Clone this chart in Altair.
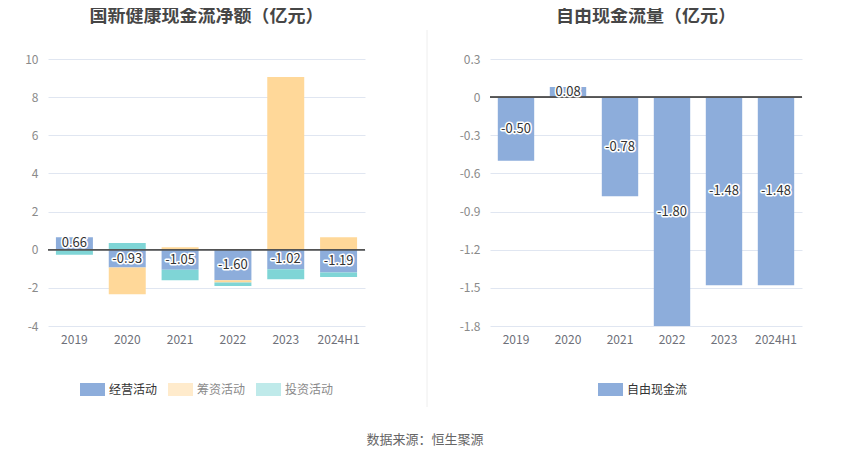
import altair as alt
import pandas as pd

years = ["2019", "2020", "2021", "2022", "2023", "2024H1"]
kinds = ["经营活动", "筹资活动", "投资活动"]
operating = [0.66, -0.93, -1.05, -1.60, -1.02, -1.19]
financing = [0.0, -1.41, 0.13, -0.12, 9.06, 0.66]
investing = [-0.26, 0.35, -0.55, -0.18, -0.53, -0.24]
fcf = [-0.50, 0.08, -0.78, -1.80, -1.48, -1.48]
left_ticks = [-4, -2, 0, 2, 4, 6, 8, 10]
right_ticks = [-1.8, -1.5, -1.2, -0.9, -0.6, -0.3, 0, 0.3]
title_left = "国新健康现金流净额（亿元）"
title_right = "自由现金流量（亿元）"
fcf_name = "自由现金流"
source_text = "数据来源：恒生聚源"

BLUE = "#8DADDB"
ORANGE = "#FFD899"
CYAN = "#7FD5D6"
FONT = "Noto Sans CJK SC"

rows = []
for i, y in enumerate(years):
    for j, (k, vals) in enumerate(zip(kinds, [operating, financing, investing])):
        rows.append({"year": y, "kind": k, "value": vals[i], "ord": j})
df_long = pd.DataFrame(rows)
df_ops = pd.DataFrame({"year": years, "value": operating,
                       "label": [f"{v:.2f}" for v in operating]})
df_fcf = pd.DataFrame({"year": years, "value": fcf, "kind": [fcf_name] * len(years),
                       "label": [f"{v:.2f}" for v in fcf]})

W1, W2, H = 317, 312, 267

legend_common = dict(
    title=None, orient="none", direction="horizontal", padding=0,
    symbolType="M-1,-0.52h2v1.04h-2z", symbolSize=625, symbolStrokeWidth=0,
    labelFontSize=12, labelFont=FONT, columnPadding=10, labelOffset=4,
)

XAXIS = alt.Axis(title=None, labelAngle=0, domain=False, ticks=False, grid=False,
                 labelPadding=8, labelColor="#6E7079", labelFontSize=12, labelFont=FONT)
XSCALE = alt.Scale(paddingInner=0.3, paddingOuter=0.15)


def yaxis(vals, fmt):
    return alt.Axis(title=None, values=vals, domain=False, ticks=False, grid=True,
                    gridColor="#E0E6F1", labelPadding=10, labelColor="#8A8A8A",
                    labelFontSize=12, labelFont=FONT, minExtent=40, labelOverlap=False,
                    labelExpr=f"replace(format(datum.value, '{fmt}'), '\u2212', '-')")


def title(t):
    return alt.Title(t, fontSize=18, font=FONT, fontWeight="bold", color="#464646",
                     anchor="middle", offset=27)


def xenc():
    return alt.X("year:N", sort=years, scale=XSCALE, axis=XAXIS)


def labels(df, scale, axis):
    base = alt.Chart(df).transform_calculate(mid="datum.value/2")
    enc = dict(x=xenc(), y=alt.Y("mid:Q", scale=scale, axis=axis), text="label:N")
    halo = base.mark_text(fontSize=13, font=FONT, stroke="white", strokeWidth=3,
                          strokeJoin="round", color="white").encode(**enc)
    top = base.mark_text(fontSize=13, font=FONT, color="#333333").encode(**enc)
    return halo, top


# Left panel
yl_scale = alt.Scale(domain=[-4, 10], nice=False, zero=False)
yl_axis = yaxis(left_ticks, 'd')
bars_l = alt.Chart(df_long).mark_bar().encode(
    x=xenc(),
    y=alt.Y("value:Q", stack="zero", scale=yl_scale, axis=yl_axis),
    color=alt.Color("kind:N", scale=alt.Scale(domain=kinds, range=[BLUE, ORANGE, CYAN]),
                    legend=alt.Legend(
                        **legend_common, legendX=32, legendY=318,
                        symbolOpacity={"expr": "datum.value == '经营活动' ? 1 : 0.5"},
                        labelColor={"expr": "datum.value == '经营活动' ? '#333333' : '#8A8A8A'"},
                    )),
    order=alt.Order("ord:Q"),
)
zero_l = alt.Chart(df_ops).mark_rule(color="#555555", strokeWidth=1).encode(
    y=alt.Y(datum=0, scale=yl_scale, axis=yl_axis))
hl, tl = labels(df_ops, yl_scale, yl_axis)
left = alt.layer(bars_l, zero_l, hl, tl).properties(width=W1, height=H, title=title(title_left))

# Middle divider panel (also holds the source note)
divider = alt.Chart(pd.DataFrame({"a": [0]})).mark_rule(color="#EEEEEE", strokeWidth=1).encode(
    x=alt.value(0), y=alt.value(-29), y2=alt.value(348))
footer = alt.Chart(pd.DataFrame({"t": [source_text]})).mark_text(
    fontSize=13, font=FONT, color="#666666").encode(
    x=alt.value(-2), y=alt.value(381), text="t:N")
mid = alt.layer(divider, footer).properties(width=1, height=H)

# Right panel
yr_scale = alt.Scale(domain=[-1.8, 0.3], nice=False, zero=False)
yr_axis = yaxis(right_ticks, '.1~f')
bars_r = alt.Chart(df_fcf).mark_bar().encode(
    x=xenc(),
    y=alt.Y("value:Q", scale=yr_scale, axis=yr_axis),
    color=alt.Color("kind:N", scale=alt.Scale(domain=[fcf_name], range=[BLUE]),
                    legend=alt.Legend(**legend_common, legendX=108, legendY=318,
                                      labelColor="#333333")),
)
zero_r = alt.Chart(df_fcf).mark_rule(color="#555555", strokeWidth=1).encode(
    y=alt.Y(datum=0, scale=yr_scale, axis=yr_axis))
hr, tr = labels(df_fcf, yr_scale, yr_axis)
right = alt.layer(bars_r, zero_r, hr, tr).properties(width=W2, height=H, title=title(title_right))

chart = alt.hconcat(left, mid, right, spacing=62, bounds="flush").resolve_scale(
    color="independent").properties(padding=0).configure_view(stroke=None)

chart.save("out.html", embed_options={"renderer": "svg", "actions": False})
